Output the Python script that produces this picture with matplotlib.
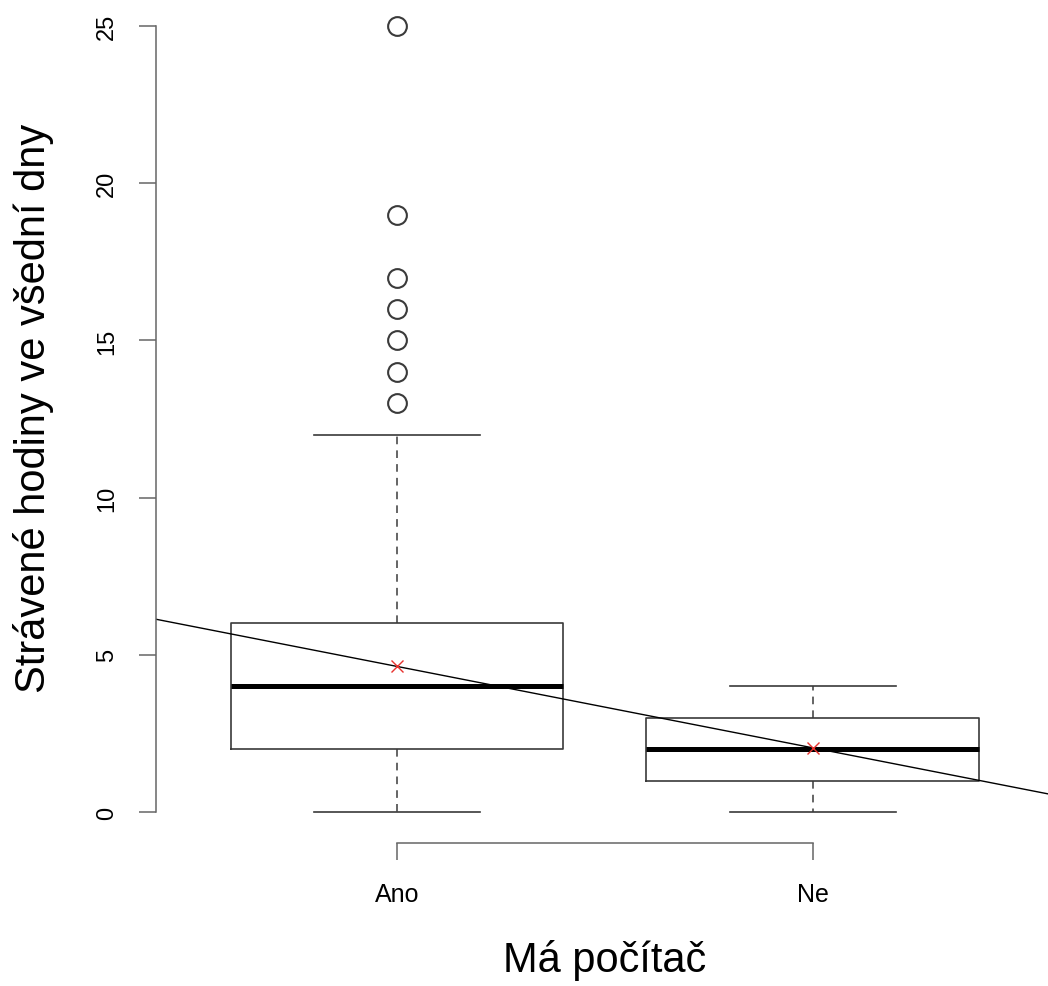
import matplotlib
matplotlib.use("Agg")
import matplotlib.pyplot as plt

# values
groups = ["Ano", "Ne"]
q1 = [2, 1]
medians = [4, 2]
q3 = [6, 3]
whisker_low = [0, 0]
whisker_high = [12, 4]
means = [4.63, 2.04]
outliers = [[13, 14, 15, 16, 17, 19, 25], []]
y_ticks = [0, 5, 10, 15, 20, 25]

plt.rcParams["font.family"] = ["Liberation Sans", "DejaVu Sans"]

W, H = 1048, 987
fig = plt.figure(figsize=(W / 100, H / 100), dpi=100)
# R-like plot region (slightly larger than the image, like the cropped original)
ax = fig.add_axes([155.7 / W, (H - 844.4) / H, (1054 - 155.7) / W, (844.4 + 4.4) / H])

stats = []
for i, g in enumerate(groups):
    stats.append({
        "label": g,
        "q1": q1[i],
        "med": medians[i],
        "q3": q3[i],
        "whislo": whisker_low[i],
        "whishi": whisker_high[i],
        "mean": means[i],
        "fliers": outliers[i],
    })

edge = "#3a3a3a"
ax.bxp(
    stats,
    positions=[1, 2],
    widths=0.8,
    capwidths=0.4,
    showmeans=True,
    boxprops=dict(color=edge, linewidth=1.2),
    medianprops=dict(color="black", linewidth=3.6),
    whiskerprops=dict(color=edge, linewidth=1.1, linestyle=(0, (5, 4))),
    capprops=dict(color=edge, linewidth=1.2),
    flierprops=dict(marker="o", markerfacecolor="none", markeredgecolor=edge,
                    markersize=13.5, markeredgewidth=1.5),
    meanprops=dict(marker="x", markeredgecolor="#e8322e", markersize=9,
                   markeredgewidth=1.0),
)

# regression line through the group means
slope = means[1] - means[0]
ax.axline((1, means[0]), slope=slope, color="black", linewidth=1.0)

ax.set_xlim(0.42, 2.58)
ax.set_ylim(-1, 26)

for side in ["top", "right"]:
    ax.spines[side].set_visible(False)
ax.spines["left"].set_bounds(0, 25)
ax.spines["bottom"].set_bounds(1, 2)
for side in ["left", "bottom"]:
    ax.spines[side].set_color("#666666")
    ax.spines[side].set_linewidth(1.1)

ax.set_yticks(y_ticks)
ax.set_yticklabels([str(t) for t in y_ticks], rotation=90, va="center")
ax.set_xticks([1, 2])
ax.set_xticklabels(groups)
ax.tick_params(axis="both", direction="out", length=12, width=1.1, color="#666666")
ax.tick_params(axis="y", labelsize=17, pad=15)
ax.tick_params(axis="x", labelsize=18, pad=16)

ax.set_xlabel("Má počítač", fontsize=30)
ax.xaxis.set_label_coords(605 / W, 1 - 961 / H, transform=fig.transFigure)
ax.xaxis.label.set_va("center")
ax.set_ylabel("Strávené hodiny ve všední dny", fontsize=30)
ax.yaxis.set_label_coords(34 / W, 1 - 408 / H, transform=fig.transFigure)
ax.yaxis.label.set_va("center")

fig.savefig("out.png", dpi=100)
